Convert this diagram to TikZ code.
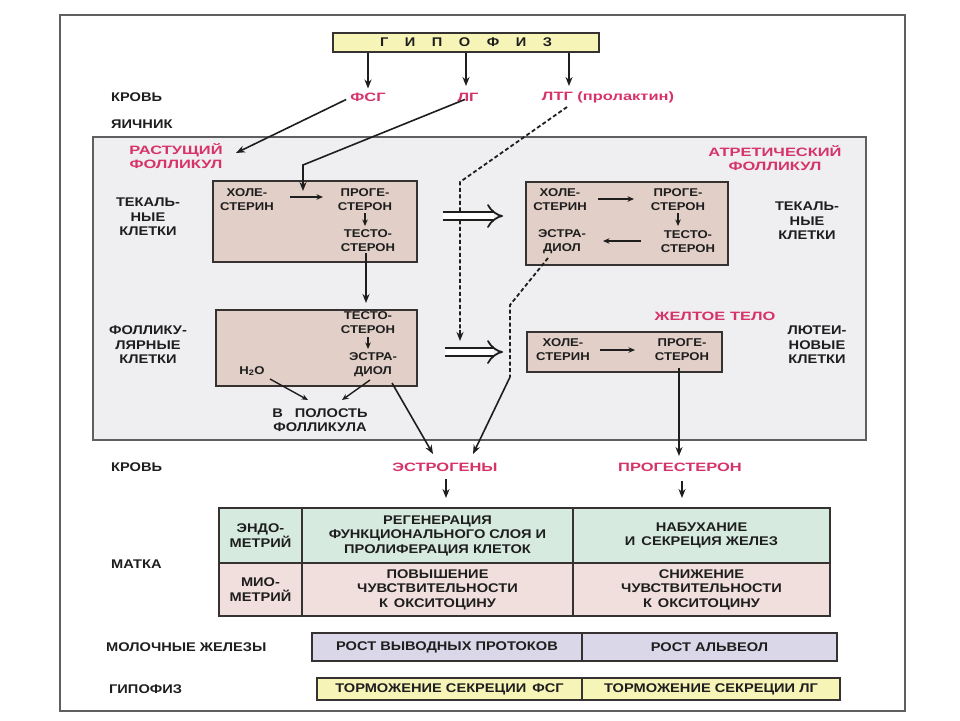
\documentclass[tikz,border=0pt]{standalone}
\usepackage{fontspec}
\setmainfont{Liberation Sans}[FakeStretch=1.16]
\newfontfamily\pinkfont{Liberation Sans}[FakeStretch=1.36]
\usetikzlibrary{arrows.meta}
\definecolor{pinktxt}{RGB}{214,52,104}
\definecolor{txt}{RGB}{30,30,30}
\definecolor{framec}{RGB}{95,95,95}
\definecolor{ovbg}{RGB}{239,238,241}
\definecolor{boxfill}{RGB}{226,207,199}
\definecolor{boxline}{RGB}{55,50,50}
\definecolor{yel}{RGB}{247,244,184}
\definecolor{tgreen}{RGB}{214,234,224}
\definecolor{tpink}{RGB}{240,223,221}
\definecolor{lav}{RGB}{218,215,233}
\tikzset{
  lbl/.style={font=\bfseries\fontsize{12.6}{14.5}\selectfont, align=center, inner sep=1pt, text=txt},
  inb/.style={font=\bfseries\fontsize{11.3}{14}\selectfont, align=center, inner sep=1pt, text=txt},
  horm/.style={font=\pinkfont\bfseries\fontsize{12.1}{14}\selectfont, align=center, inner sep=1pt, text=pinktxt},
  stepbox/.style={draw=boxline, line width=1.2pt, fill=boxfill, inner sep=0pt},
  cell/.style={lbl, draw=boxline, line width=1.2pt, inner sep=0pt},
  arr/.style={draw=txt, line width=1.6pt, -{Stealth[length=9pt,width=7pt]}},
  sarr/.style={draw=txt, line width=1.4pt, -{Stealth[length=6.5pt,width=5.5pt]}},
  dline/.style={draw=txt, line width=1.8pt, dash pattern=on 4pt off 2.5pt},
  dbl/.style={draw=txt, line width=1.8pt, double, double distance=6.5pt, -{Implies}}
}
\begin{document}
\begin{tikzpicture}[x=1pt,y=-1pt]
\useasboundingbox (0,0) rectangle (960,720);
\fill[white] (0,0) rectangle (960,720);
\draw[framec, line width=1.3pt] (60,15) rectangle (905,711);
\draw[framec, line width=1.1pt, fill=ovbg] (93,137) rectangle (866,440);

% top
\node[cell, fill=yel, minimum width=266, minimum height=19] (gip) at (466,42.5)
  {Г\hspace{16.5pt}И\hspace{16.5pt}П\hspace{16.5pt}О\hspace{16.5pt}Ф\hspace{16.5pt}И\hspace{16.5pt}З};
\node[lbl, anchor=west] (krov1) at (110,97) {КРОВЬ};
\node[horm] (fsg) at (368,97) {ФСГ};
\node[horm] (lg) at (468,97) {ЛГ};
\node[horm] (ltg) at (608,97) {ЛТГ (пролактин)};
\node[lbl, anchor=west] (ya) at (110,124) {ЯИЧНИК};

\draw[arr, shorten >=3pt] (gip.south -| fsg) -- (fsg.north);
\draw[arr, shorten >=3pt] (gip.south -| 466,0) -- (466,89);
\draw[arr, shorten >=3pt] (gip.south -| 569,0) -- (569,89);

% growing follicle
\node[horm] (rast) at (176,156.5) {РАСТУЩИЙ\\ФОЛЛИКУЛ};
\node[lbl] (tek1) at (148,217) {ТЕКАЛЬ-\\НЫЕ\\КЛЕТКИ};
\node[stepbox, minimum width=204, minimum height=81] (tekbox) at (315,221.5) {};
\node[inb] (hole1) at (247,200) {ХОЛЕ-\\СТЕРИН};
\node[inb] (proge1) at (365,200) {ПРОГЕ-\\СТЕРОН};
\node[inb] (testo1) at (368,241) {ТЕСТО-\\СТЕРОН};
\draw[sarr] (290,197) -- (323,197);
\draw[sarr] (365,213) -- (365,226);

\node[lbl] (foll) at (148,345) {ФОЛЛИКУ-\\ЛЯРНЫЕ\\КЛЕТКИ};
\node[stepbox, minimum width=201, minimum height=76] (follbox) at (316.5,348) {};
\node[inb] (testo2) at (368,323) {ТЕСТО-\\СТЕРОН};
\node[inb] (estr2) at (373,364.5) {ЭСТРА-\\ДИОЛ};
\node[inb] (h2o) at (252,371) {H\textsubscript{2}O};
\node[lbl] (polost) at (320,420) {В\hspace{12pt}ПОЛОСТЬ\\ФОЛЛИКУЛА};
\draw[sarr] (368,337) -- (368,349);
\draw[arr] (testo1.south -| 366,0) -- (366,303);
\draw[sarr] (270,379) -- (308,400);
\draw[sarr] (370,380) -- (342,400);

% FSG / LG / LTG connectors
\coordinate (fsgtip) at (236,153);
\draw[arr] ([xshift=-3pt,yshift=3pt]fsg.south west) -- (fsgtip);
\coordinate (lgbend) at (303,165);
\coordinate (lgtip) at (303,191);
\draw[arr] ([xshift=-3pt,yshift=3pt]lg.south) -- (lgbend) -- (lgtip);
\coordinate (ltgstart) at (567,107);
\coordinate (ltgbend) at (460,182);
\coordinate (ltgtip) at (460,341);
\draw[dline] (ltgstart) -- (ltgbend) -- (460,332);
\draw[arr] (460,330) -- (ltgtip);

% atretic follicle
\node[horm] (atr) at (775,158.5) {АТРЕТИЧЕСКИЙ\\ФОЛЛИКУЛ};
\node[lbl] (tek3) at (807,221) {ТЕКАЛЬ-\\НЫЕ\\КЛЕТКИ};
\node[stepbox, minimum width=202, minimum height=83] (atrbox) at (627,223.5) {};
\node[inb] (hole3) at (560,199.5) {ХОЛЕ-\\СТЕРИН};
\node[inb] (proge3) at (678,199.5) {ПРОГЕ-\\СТЕРОН};
\node[inb] (estr3) at (562,241.5) {ЭСТРА-\\ДИОЛ};
\node[inb] (testo3) at (688,241.5) {ТЕСТО-\\СТЕРОН};
\draw[sarr] (598,199) -- (634,199);
\draw[sarr] (678,213) -- (678,226);
\draw[sarr] (641,241) -- (603,241);

% corpus luteum
\node[horm] (zhelt) at (715,316) {ЖЕЛТОЕ ТЕЛО};
\node[lbl] (lut) at (817,345) {ЛЮТЕИ-\\НОВЫЕ\\КЛЕТКИ};
\node[stepbox, minimum width=195, minimum height=40] (zhbox) at (624.5,352) {};
\node[inb] (hole4) at (563,350) {ХОЛЕ-\\СТЕРИН};
\node[inb] (proge4) at (682,350) {ПРОГЕ-\\СТЕРОН};
\draw[sarr] (600,350) -- (635,350);

% double arrows
\coordinate (d1s) at (443,216);
\coordinate (d1e) at (503,216);
\coordinate (d2s) at (445,352);
\coordinate (d2e) at (503,352);
\draw[dbl] (d1s) -- (d1e);
\draw[dbl] (d2s) -- (d2e);

% blood
\node[lbl, anchor=west] (krov2) at (110,467) {КРОВЬ};
\node[horm] (estrogen) at (445,467) {ЭСТРОГЕНЫ};
\node[horm] (progest) at (680,467) {ПРОГЕСТЕРОН};

\coordinate (e3a) at (548,258);
\coordinate (e3b) at (510,305);
\coordinate (e3c) at (510,377);
\draw[dline] (e3a) -- (e3b) -- (e3c);
\draw[arr] (e3c) -- (473,454);
\draw[arr] (392,383) -- (433,454);
\draw[arr] (679,368) -- (679,456);
\draw[arr] (446,479) -- (446,498);
\draw[arr] (682,481) -- (682,498);

% uterus table
\node[lbl, anchor=west] (matka) at (110,564) {МАТКА};
\node[cell, fill=tgreen, minimum width=83, minimum height=55] (endo) at (260.5,535.5) {ЭНДО-\\МЕТРИЙ};
\node[cell, fill=tgreen, minimum width=271, minimum height=55] (reg) at (437.5,535.5) {РЕГЕНЕРАЦИЯ\\ФУНКЦИОНАЛЬНОГО СЛОЯ И\\ПРОЛИФЕРАЦИЯ КЛЕТОК};
\node[cell, fill=tgreen, minimum width=257, minimum height=55] (nab) at (701.5,535.5) {НАБУХАНИЕ\\И\hspace{6pt}СЕКРЕЦИЯ ЖЕЛЕЗ};
\node[cell, fill=tpink, minimum width=83, minimum height=53] (mio) at (260.5,589.5) {МИО-\\МЕТРИЙ};
\node[cell, fill=tpink, minimum width=271, minimum height=53] (pov) at (437.5,589.5) {ПОВЫШЕНИЕ\\ЧУВСТВИТЕЛЬНОСТИ\\К\hspace{6pt}ОКСИТОЦИНУ};
\node[cell, fill=tpink, minimum width=257, minimum height=53] (sni) at (701.5,589.5) {СНИЖЕНИЕ\\ЧУВСТВИТЕЛЬНОСТИ\\К\hspace{6pt}ОКСИТОЦИНУ};

% mammary glands
\node[lbl, anchor=west] (mol) at (105,647) {МОЛОЧНЫЕ ЖЕЛЕЗЫ};
\node[cell, fill=lav, minimum width=270, minimum height=28] (prot) at (447,647) {РОСТ ВЫВОДНЫХ ПРОТОКОВ};
\node[cell, fill=lav, minimum width=255, minimum height=28] (alv) at (709.5,647) {РОСТ АЛЬВЕОЛ};

% hypophysis
\node[lbl, anchor=west] (gip2) at (108,689) {ГИПОФИЗ};
\node[cell, fill=yel, minimum width=265, minimum height=22] (tfsg) at (449.5,689) {ТОРМОЖЕНИЕ СЕКРЕЦИИ\hspace{6pt}ФСГ};
\node[cell, fill=yel, minimum width=258, minimum height=22] (tlg) at (711,689) {ТОРМОЖЕНИЕ СЕКРЕЦИИ ЛГ};
\end{tikzpicture}
\end{document}
